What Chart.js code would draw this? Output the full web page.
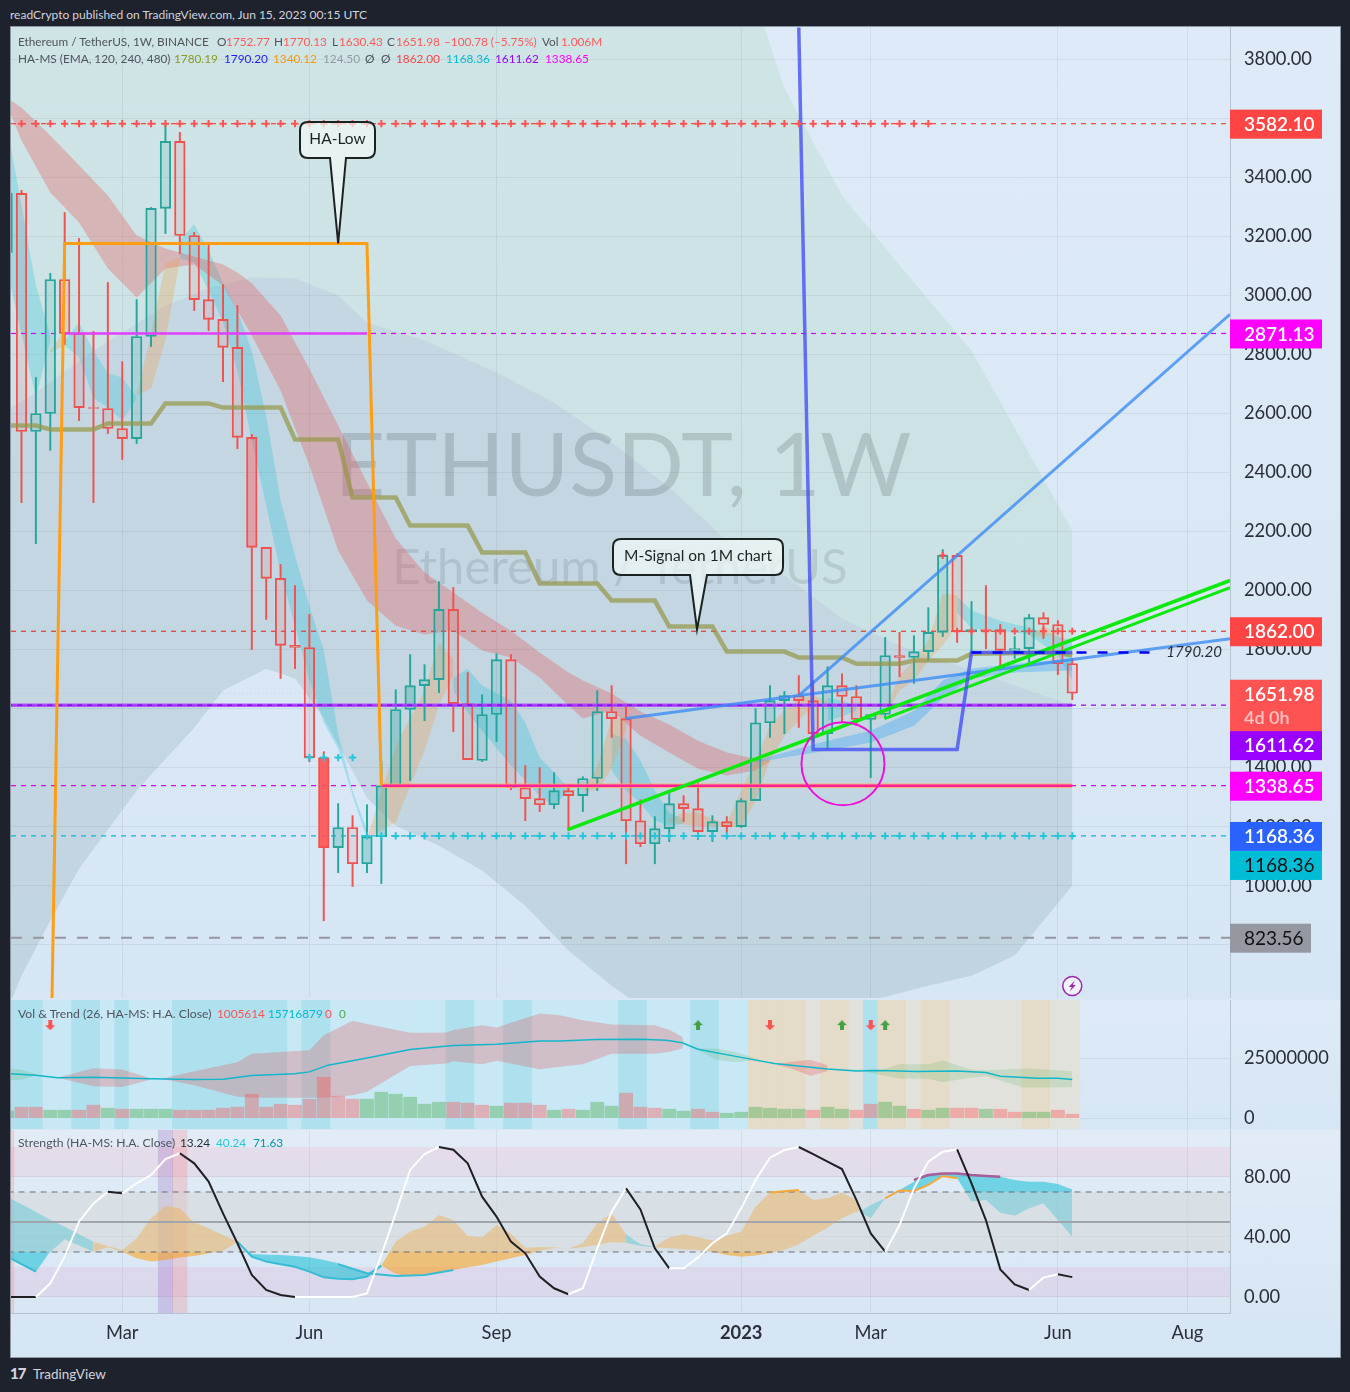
<!DOCTYPE html>
<html><head><meta charset="utf-8">
<script src="https://cdn.jsdelivr.net/npm/chart.js@4"></script>
<style>
html,body{margin:0;padding:0;background:#1e222d;width:1350px;height:1392px;overflow:hidden}
canvas{position:absolute;display:block}
.t{position:absolute;white-space:pre;font-family:"Lato","Noto Sans",sans-serif;font-size:11.8px;line-height:16px;color:#50535e}
#panel{position:absolute;left:10px;top:26px;width:1329px;height:1330px;border:1px solid #8d97a3;background:#d9e7f5}
</style></head><body>
<div id="panel"></div>
<canvas id="cMain" style="left:11px;top:27px"></canvas>
<canvas id="cVol" style="left:11px;top:1000px"></canvas>
<canvas id="cStr" style="left:11px;top:1130px"></canvas>
<div id="texts"></div>
<script>
// ---------- candles (week index starts at -1) ----------
const weekStart=-1;
const opens =[3146,3346,2539,2600,3054,2871,2620,2617,2549,2515,2861,3295,3522,3203,2986,2919,2824,2519,2146,2041,1814,1807,1434,1129,1197,1074,1166,1339,1597,1678,1698,1936,1617,1424,1580,1766,1332,1295,1274,1322,1305,1363,1590,1566,1220,1142,1193,1278,1261,1183,1217,1200,1288,1552,1627,1644,1627,1515,1678,1641,1563,1580,1780,1773,1793,1858,2119,1861,1868,1868,1797,1803,1908,1885,1752.77];
const highs =[3346,3356,2722,3075,3281,3193,2878,3044,2776,2986,3298,3580,3553,3214,3180,3037,2966,2529,2146,2088,2017,1919,1454,1278,1237,1274,1420,1664,1783,1749,2030,2010,1722,1647,1786,1783,1407,1400,1383,1342,1369,1661,1678,1610,1291,1234,1312,1305,1349,1237,1234,1295,1600,1678,1658,1712,1695,1742,1718,1678,1580,1841,1858,1847,1942,2139,2125,1963,2017,1885,1844,1919,1925,1898,1770.13];
const lows  =[3146,2298,2159,2475,2834,2576,2298,2532,2444,2498,2827,3210,3142,2949,2881,2708,2481,1800,1902,1702,1735,1420,881,1044,997,1044,1007,1339,1356,1559,1654,1522,1427,1420,1488,1325,1220,1251,1261,1186,1251,1322,1502,1074,1132,1074,1149,1217,1156,1149,1180,1197,1288,1502,1515,1536,1488,1464,1552,1542,1366,1566,1708,1685,1763,1844,1824,1793,1803,1739,1770,1756,1837,1715,1630.43];
const closes=[3346,2539,2600,3054,2871,2620,2617,2549,2515,2861,3295,3522,3203,2986,2919,2824,2519,2146,2041,1814,1807,1434,1129,1197,1074,1166,1339,1597,1678,1698,1936,1617,1427,1580,1766,1332,1295,1274,1322,1305,1363,1590,1566,1220,1142,1193,1278,1261,1183,1217,1200,1288,1552,1627,1644,1627,1515,1678,1641,1563,1580,1780,1773,1793,1858,2119,1861,1868,1864,1797,1803,1908,1885,1752,1651.98];
const strongBodyWeeks=[16,21,22,24,25,26,27];
// ---------- x axis ----------
const xTickValues=[7,20,33,50,59,72,81];
const xTickLabels=['Mar','Jun','Sep','2023','Mar','Jun','Aug'];
const xMin=-0.729, xMax=83.958;
const priceTicks=[800,1000,1200,1400,1600,1800,2000,2200,2400,2600,2800,3000,3200,3400,3600,3800];
// ---------- cloud ----------
const cloudTopX =[-1,1,5,10,13,16,19,22,24,28,33,37,41,45,49,53,57,61,66,73];
const cloudTopY =[2610,2671,2813,2966,3024,3061,3058,3000,2908,2847,2739,2637,2502,2349,2169,2051,1905,1813,1729,1610];
const cloudHighY=[4500,4500,4500,4500,4500,4500,4500,4500,4500,4500,4500,4500,4500,4500,4300,3702,3339,3102,2813,2203];
const cloudLowX =[-1,0,2,4,8,12,14,17,19,21,24,26,29,32,35,38,41,44,48,52,59,63,66,69,71,73];
const cloudLowY =[576,695,881,1057,1322,1535,1661,1735,1702,1569,1298,1203,1135,1051,932,780,661,559,508,474,610,661,695,763,881,1000];
// ---------- red ribbon ----------
const redX=[-1,0,2,4,6,8,10,12,14,15,16,18,20,22,24,26,28,30,32,34,36,38,39,41,43,45,47,49,51,52];
const redHi=[3668,3637,3542,3441,3339,3203,3159,3132,3105,3078,3041,2932,2752,2559,2366,2176,2061,1993,1925,1864,1790,1722,1695,1651,1590,1546,1491,1451,1430,1424];
const redLo=[3644,3525,3349,3247,3091,2993,3091,3105,3034,2949,2864,2678,2424,2136,1966,1881,1851,1864,1797,1773,1705,1610,1566,1593,1508,1451,1396,1373,1390,1420];
// ---------- cyan ribbon pieces ----------
const cy1X=[-1,1,2], cy1Hi=[3576,3034,2864], cy1Lo=[3085,2654,2847];
const cy2X=[3,4,5,6,7,8], cy2Hi=[2847,2908,2813,2736,2722,2654], cy2Lo=[2830,2790,2651,2620,2576,2651];
const cy3X=[11,12,13,14,15,16,17,18,19,20,21,22,23,24], cy3Hi=[3186,3241,3152,3044,2949,2813,2593,2305,2119,1949,1797,1515,1322,1186], cy3Lo=[3125,3112,3017,2908,2746,2508,2288,2061,1881,1695,1552,1464,1305,1159];
const cy4X=[30,31,32,34,35,36,37,38], cy4Hi=[1705,1735,1678,1627,1552,1434,1383,1332], cy4Lo=[1661,1586,1525,1407,1356,1305,1271,1322];
const cy5X=[41,42,43,44,45,46], cy5Hi=[1515,1498,1424,1322,1247,1227], cy5Lo=[1390,1322,1278,1220,1203,1210];
const cy6X=[56,57,58], cy6Hi=[1637,1627,1610], cy6Lo=[1559,1573,1593];
const cy7X=[65,66,68,70,72,73], cy7Hi=[1980,1932,1898,1874,1844,1830], cy7Lo=[1925,1871,1864,1851,1780,1695];
// ---------- tan ribbon pieces ----------
const ta0X=[2,3], ta0Hi=[2813,2881], ta0Lo=[2807,2830];
const ta1X=[8,9,10,11], ta1Hi=[2661,2871,3108,3129], ta1Lo=[2661,2685,2847,3119];
const ta2X=[24,26,28,29,30], ta2Hi=[1159,1474,1661,1824,1769], ta2Lo=[1159,1214,1458,1610,1712];
const ta3X=[39,40,41,42], ta3Hi=[1322,1403,1566,1566], ta3Lo=[1322,1322,1396,1525];
const ta4X=[45,46,47,48,49,50,51,52,53,54,55,56], ta4Hi=[1227,1247,1247,1227,1210,1322,1424,1542,1593,1637,1644,1627], ta4Lo=[1213,1207,1200,1200,1200,1200,1288,1424,1508,1559,1610,1617];
const ta5X=[59,60,61,62,63,64,65], ta5Hi=[1563,1600,1712,1763,1830,1990,1983], ta5Lo=[1556,1573,1661,1695,1763,1814,1881];
const ta6X=[70,71,72], ta6Hi=[1844,1881,1854], ta6Lo=[1844,1844,1854];
// ---------- blue ribbon ----------
const blX=[51,53,56,59,62,64,66,69,73], blHi=[1424,1451,1491,1525,1593,1695,1736,1752,1769], blLo=[1417,1434,1458,1485,1542,1634,1702,1722,1729];
// ---------- lines ----------
const signalX=[-1,1,2,5,6,9,10,13,14,18,19,22,23,26,27,31,32,35,36,40,41,44,45,48,49,53,54,57,58,61,62,65,66,72,73];
const signalY=[2559,2559,2546,2546,2566,2566,2634,2634,2620,2620,2512,2512,2315,2315,2220,2220,2129,2129,2024,2024,1966,1966,1878,1878,1793,1793,1773,1773,1752,1752,1763,1763,1786,1790,1780];
const haLowX=[2.12,3,24,25], haLowY=[617,3176,3176,1339];
const haHighX=[54,55,65,66,73], haHighY=[3908,1461,1461,1790,1790];
const dashBlueX=[66,79], dashBlueY=[1790.2,1790.2];
const green1X=[37.95,83.96], green1Y=[1190,2034];
const green2X=[59.96,83.96], green2Y=[1566,2010];
const trend1X=[42,54,62,73,83.96], trend1Y=[1566,1644,1695,1766,1837];
const trend2X=[54,83.96], trend2Y=[1644,2936];
const levelValues=[3582.10,2871.13,1862.00,1611.62,1338.65,1168.36,823.56];
const levelColors=['#f44336','#d500f9','#e53935','#8a00f0','#e000e8','#00bcd4','#9598a1'];
const magentaSolidX=[3,24], purpleSolidX=[-1,73], pinkSolidX=[25,73];
const plusRedTopX=[0,1,2,3,4,5,6,7,8,9,10,11,12,13,14,15,16,17,18,19,20,21,22,23,24,25,26,27,28,29,30,31,32,33,34,35,36,37,38,39,40,41,42,43,44,45,46,47,48,49,50,51,52,53,54,55,56,57,58,59,60,61,62,63];
const plusRedLowX=[65,66,67,68,69,70,71,72,73];
const plusCyanLowX=[24,25,26,27,28,29,30,31,32,33,34,35,36,37,38,39,40,41,42,43,44,45,46,47,48,49,50,51,52,53,54,55,56,57,58,59,60,61,62,63,64,65,66,67,68,69,70,71,72,73];
const plusCyanHighX=[20,21,22,23];
const circleX=57.07, circleY=1413;
const tagTexts=['3582.10','2871.13','1862.00','1651.98','1611.62','1338.65','1168.36','1168.36','823.56'];
const tagValues=[3582.10,2871.13,1862.00,1651.98,1611.62,1338.65,1168.36,1168.36,823.56];
const tagShift=[0,0,0,12,40,0,0,29,0];
const tagHeights=[29,29,29,52,29,29,29,29,29];
const tagWidths=[92,92,92,92,92,92,92,92,81];
const tagFill=['#ff4444','#ff00ff','#ff4444','#ff5252','#9900ff','#ff00ff','#2962ff','#00bcd4','#9598a1'];
const tagInk=['#fff','#fff','#fff','#fff','#fff','#fff','#fff','#111','#111'];
// ---------- volume ----------
const volTrendState=[1,1,1,0,0,1,1,0,1,0,0,0,1,1,1,1,1,1,1,1,0,1,1,0,0,0,0,0,0,0,0,1,1,0,0,1,1,0,0,0,0,0,0,1,1,0,0,0,1,1,0,0,2,2,2,2,3,2,2,3,1,2,2,3,2,2,3,3,3,3,3,2,2,3,3];
const volValues=[2.92,4.58,4.58,3.33,3.33,3.33,5.42,4.17,3.75,3.75,3.75,3.75,3.33,3.33,3.33,4.17,4.58,10.0,4.58,5.83,5.42,7.92,17.08,9.17,7.92,7.92,10.83,10.0,8.75,5.83,6.67,6.67,6.25,5.42,5.0,6.25,6.25,5.42,3.33,3.75,3.33,6.67,5.0,10.42,4.58,4.17,3.75,2.92,3.75,2.5,2.08,2.5,4.58,4.17,3.75,3.75,3.33,4.58,3.75,3.33,5.83,6.67,5.0,3.75,3.33,4.17,4.17,4.17,3.75,3.75,2.5,2.5,2.5,3.33,1.67];
const volIsGreen=[1,0,0,1,1,0,0,1,0,1,1,1,0,0,0,0,0,0,0,0,0,0,0,0,0,1,1,1,1,1,1,0,0,0,1,0,0,0,1,0,1,1,1,0,0,0,1,1,0,0,1,1,1,1,1,1,0,1,1,0,0,1,1,0,1,1,0,0,1,0,0,1,1,0,0];
const volTicks=[0,25000000];
const volLineX=[-1,1,2.5,5,7,9,12,14,16,19,20,21.3,24,27,30,33,36,37.4,39.9,43,44.8,45.9,47,49.8,52.3,56,58,59.7,62.2,65,67,68,70.6,72,73];
const volLineY=[18.6,17.9,16.9,17.1,16.8,16.4,16.1,16.25,17.8,18.5,19.3,22.1,25.1,28.6,30.3,30.8,32.2,32.2,32.8,32.9,32.5,31.4,28.75,25.55,22.8,20.55,19.7,19.85,19.45,19.7,19.0,17.5,16.67,16.67,16.1];
const vr1X=[2.5,5,7,9], vr1Hi=[16.9,20.8,20.3,16.5], vr1Lo=[16.9,13.3,13.05,16.1];
const vr2X=[9.7,12,15,16,20,21,23,24,27,29.5,30,32,33,36,37.4,39,41,44,45,45.9,46];
const vr2Hi=[16.4,19.6,23.3,26.9,28.3,34.6,40.6,39.2,35.6,35.6,36.7,38.75,37.8,43.6,42.9,40.8,39.0,38.75,36.9,33.9,31.4];
const vr2Lo=[16.4,13.75,8.9,8.5,8.5,8.5,9.6,11.0,21.7,22.8,23.75,22.5,23.9,20.4,21.4,22.5,26.9,26.9,27.6,29.0,31.4];
const vr3X=[52.5,53.5,54.8,56], vr3Hi=[22.8,23.5,24.4,22.1], vr3Lo=[22.1,20.7,17.6,19.7];
const vg0X=[-1,0,1], vg0Hi=[20.7,20.2,18.4], vg0Lo=[15.8,16,17.8];
const vg1X=[46,47,48.3,49.6,51.3,52.5], vg1Hi=[31.4,29,29,27.6,24.4,22.8], vg1Lo=[31.4,28.3,24.4,23.3,24.4,22.8];
const vg2X=[56,58.7,59,59.7,61,63,64,65.9,67,69.6,70.9,73], vg2Hi=[20.7,20.2,20.7,20,22.5,22.5,24,20.4,20,20.7,20.4,19.6], vg2Lo=[20.7,19.7,18.7,18,16.5,16.4,15,16.9,17.6,12.8,12.8,13.05];
const arrowUpX=[47,57,60], arrowDownX=[2,52,59], arrowValue=38.75;
// ---------- strength ----------
const stochValues=[0,0,0,9.1,26.9,50.2,62.4,70.2,69.1,75.8,81.3,92,95.8,89.1,76.9,55.8,35.8,14.7,4.7,1.3,0,0,0,0,0,2.4,28,55.8,84.7,95.3,100,98.2,89.1,66.9,53.6,36.9,29.1,13.6,5.8,1.8,5.8,32.4,56.9,72.4,58.4,32.4,19.1,19.1,26.4,35.8,42.4,59.1,78,92.9,98,100,95.3,90.2,85.3,64.7,42.4,30.2,48,72.4,90.2,96.9,98.4,75.8,51.3,18.4,8.4,4.7,12.9,15.1,13.24];
const sCy1X=[-1,1,1.9,3,5], sCy1Hi=[66.9,56.9,52,46.9,36.9], sCy1Lo=[26.9,16.9,29.1,38.5,30.2];
const sTa1X=[5,6,7,8,9,10,11,12,13,14,15], sTa1Hi=[36.9,34,31.3,39.1,52.5,60.9,59.1,49.6,45.8,41.3,36.9], sTa1Lo=[30.2,33.1,30.2,25.8,23.6,24.7,26.4,27.3,29.1,30.7,36.9];
const sCy2X=[15,16,17,18,19,20,21,22,23,24,25], sCy2Hi=[36.9,28.7,28.2,28,27.3,26.5,24.7,22.5,19.1,15.8,21.3], sCy2Lo=[36.9,26.9,23.6,21.8,20.2,16.9,13.1,12.2,11.8,13.6,20.9];
const sTa2X=[25,26,27,28,29,30,31,32,33,34,35,36,37,38,39,40,41,42], sTa2Hi=[21,36.9,43.6,46.9,54.7,51.3,40.7,39.8,48,42.4,32.9,33.3,33.1,32.4,35.8,49.1,55.8,41.8], sTa2Lo=[21,15.3,14,14.7,16.2,18,19.8,21.3,23.6,25.8,28,30.9,32.7,32.4,33.1,34.7,36.5,36.2];
const sCy3X=[42,43,44], sCy3Hi=[41.8,35.1,33.6], sCy3Lo=[36.2,34,33.1];
const sTa3X=[44,45,46,47,48,49,50,51,52,53,54,55,56,57,58,58.2], sTa3Hi=[33.6,39.6,41.8,39.8,37.6,40.7,43.6,60.2,69.6,70.5,71.3,64.7,65.8,69.6,64.7,56.9], sTa3Lo=[33.1,32.5,31.8,31.3,30.2,28,26.9,27.6,29.1,31.3,35.1,40.9,46.2,52.5,56.9,56.9];
const sCy4X=[58.2,59,60,61,62,63,64,65,66,67,68,69,70,71,72,73], sCy4Hi=[56.9,61.3,65.8,71.3,76.9,81.3,82.4,82.4,81.3,80.7,80.2,78,76.9,76.9,75.3,71.63], sCy4Lo=[56.9,52.5,65.8,70.9,70.7,74.7,80.7,79.1,63.6,64.7,56.2,54.2,59.1,62.4,51.3,40.24];
const sCyanLine1X=[15,16,17,18,19,20,21,22,23,24,25], sCyanLine1Y=[36.9,26.9,23.6,21.8,20.2,16.9,13.1,12.2,11.8,13.6,20.9];
const sCyanLine2X=[22,24,26,28,30], sCyanLine2Y=[21.8,15.8,14,14.7,18];
const sCyanLine3X=[-1,1], sCyanLine3Y=[26.9,16.9];
const sOrangeLine1X=[52,53,54], sOrangeLine1Y=[69.6,70.5,71.3];
const sOrangeLine2X=[60,61,62,63,64,65], sOrangeLine2Y=[65.8,71,70.7,74.7,80.7,79.1];
const sPurpleLineX=[62,63,64,65,66,67,68], sPurpleLineY=[78,81.3,82.4,82.4,81.3,80.7,80.2];
const strTicks=[0,40,80];
const zoneOuterHi=[100,20], zoneOuterLo=[80,0];
const zoneMidHi=70, zoneMidLo=30, zoneCentre=50;
const highlightPurpleWeek=10, highlightPinkWeek=11;

// ---------- helpers ----------
const FONT='"Lato","Noto Sans",sans-serif';
const pts=(xs,ys)=>xs.map((x,i)=>({x,y:ys[i]}));
const wk=i=>i+weekStart;
const base={pointRadius:0,pointHoverRadius:0,tension:0,type:'line'};
function band(xs,hi,lo,color,order){return [
  {...base,data:pts(xs,lo),borderWidth:0,borderColor:'transparent',fill:false,order},
  {...base,data:pts(xs,hi),borderWidth:0,borderColor:'transparent',fill:'-1',backgroundColor:color,order}];}
function line(xs,ys,color,width,order,dash){return {...base,data:pts(xs,ys),borderColor:color,borderWidth:width,fill:false,order,borderDash:dash||[],borderJoinStyle:'miter'};}
function plus(xs,y,color,order){return {...base,showLine:false,data:xs.map(x=>({x,y})),pointStyle:'cross',pointRadius:3.6,pointBorderColor:color,pointBorderWidth:2,order};}
function xScale(withLabels){return {type:'linear',min:xMin,max:xMax,position:'bottom',offset:false,
  afterBuildTicks:s=>{s.ticks=xTickValues.map(v=>({value:v}));},
  afterFit:s=>{s.paddingLeft=s.paddingRight=0;s.height=withLabels?43:0;},
  grid:{color:'rgba(42,46,57,0.07)',drawTicks:false,offset:false},border:{display:withLabels,color:'#b4c4d3',width:1},
  ticks:withLabels?{display:true,autoSkip:false,maxRotation:0,padding:9,color:'#2a2e39',
    callback:v=>xTickLabels[xTickValues.indexOf(v)],
    font:c=>({family:FONT,size:18.3,weight:c.tick&&c.tick.value===50?'700':'400'})}:{display:false}};}
function yScale(min,max,ticks,fmt,grid){return {type:'linear',position:'right',min,max,
  afterBuildTicks:s=>{s.ticks=ticks.map(v=>({value:v}));},
  afterFit:s=>{s.width=110;s.paddingTop=s.paddingBottom=0;},
  grid:{color:grid||'rgba(42,46,57,0.07)',drawTicks:false},border:{display:true,color:'#b4c4d3',width:1},
  ticks:{display:true,padding:14,color:'#2a2e39',font:{family:FONT,size:18.3},callback:fmt}};}
const commonOpts={responsive:false,animation:false,devicePixelRatio:1,events:[],layout:{padding:0,autoPadding:false},
  plugins:{legend:{display:false},tooltip:{enabled:false},title:{display:false}}};

// ---------- main pane ----------
const W=1329,H1=971;
const redLine='#f0524f',grnLine='#26a69a';
const idx=opens.map((_,i)=>wk(i));
const upBody=i=>closes[i]>=opens[i];
function bodyFill(i){const w=idx[i];const s=strongBodyWeeks.includes(w);
  if(w===21)return 'rgba(255,82,82,0.9)'; if(w===16)return 'rgba(255,82,82,0.4)';
  return upBody(i)?(s?'rgba(38,166,154,0.3)':'rgba(38,166,154,0.14)'):'rgba(239,83,80,0.11)';}
const lineCol=opens.map((_,i)=>upBody(i)?grnLine:redLine);
const bar=(d)=>({type:'bar',grouped:false,...d});
const mainDS=[
  ...band(cloudTopX,cloudHighY,cloudTopY,'rgba(76,175,80,0.10)',60),
  {...base,data:pts(cloudTopX,cloudTopY),borderWidth:0,borderColor:'transparent',fill:false,order:59},
  {...base,data:pts(cloudLowX,cloudLowY),borderWidth:0,borderColor:'transparent',fill:'-1',backgroundColor:'rgba(82,126,127,0.16)',order:59},
  ...band(redX,redHi,redLo,'rgba(229,83,83,0.32)',40),
  ...band(cy1X,cy1Hi,cy1Lo,'rgba(0,188,212,0.24)',41),
  ...band(cy2X,cy2Hi,cy2Lo,'rgba(0,188,212,0.22)',41),
  ...band(cy3X,cy3Hi,cy3Lo,'rgba(0,188,212,0.24)',41),
  ...band(cy4X,cy4Hi,cy4Lo,'rgba(0,188,212,0.24)',41),
  ...band(cy5X,cy5Hi,cy5Lo,'rgba(0,188,212,0.24)',41),
  ...band(cy6X,cy6Hi,cy6Lo,'rgba(0,188,212,0.24)',41),
  ...band(cy7X,cy7Hi,cy7Lo,'rgba(0,188,212,0.24)',41),
  ...band(ta0X,ta0Hi,ta0Lo,'rgba(240,150,60,0.28)',39),
  ...band(ta1X,ta1Hi,ta1Lo,'rgba(240,150,60,0.28)',39),
  ...band(ta2X,ta2Hi,ta2Lo,'rgba(240,150,60,0.28)',39),
  ...band(ta3X,ta3Hi,ta3Lo,'rgba(240,150,60,0.28)',39),
  ...band(ta4X,ta4Hi,ta4Lo,'rgba(240,150,60,0.28)',39),
  ...band(ta5X,ta5Hi,ta5Lo,'rgba(240,150,60,0.28)',39),
  ...band(ta6X,ta6Hi,ta6Lo,'rgba(240,150,60,0.28)',39),
  ...band(blX,blHi,blLo,'rgba(66,165,245,0.38)',38),
  // thin price levels
  ...levelValues.map((v,i)=>line([xMin,xMax],[v,v],levelColors[i],i===6?2:1.2,35,i===6?[11,11]:[5,5])),
  line([xMin,73],[1651.98,1651.98],'rgba(120,123,134,0.18)',1,35,[1,3]),
  // candles
  bar({data:idx.map((x,i)=>({x,y:[lows[i],Math.min(opens[i],closes[i])]})),backgroundColor:lineCol,barThickness:1.3,order:20,borderWidth:0}),
  bar({data:idx.map((x,i)=>({x,y:[Math.max(opens[i],closes[i]),highs[i]]})),backgroundColor:lineCol,barThickness:1.3,order:20,borderWidth:0}),
  bar({data:idx.map((x,i)=>({x,y:[opens[i],closes[i]]})),backgroundColor:opens.map((_,i)=>bodyFill(i)),borderColor:lineCol,borderWidth:1.25,borderSkipped:false,barThickness:10.6,order:19}),
  // overlays
  line(signalX,signalY,'rgba(150,150,70,0.7)',4.5,12),
  line(magentaSolidX,[2871.13,2871.13],'#e040fb',2.5,10),
  line(purpleSolidX,[1611.62,1611.62],'rgba(170,60,255,0.85)',3.5,9),
  line(purpleSolidX,[1611.62,1611.62],'#7a00e0',1.4,8.5,[5,5]),
  line(pinkSolidX,[1338.65,1338.65],'rgba(255,170,90,0.85)',4.5,9),
  line(pinkSolidX,[1338.65,1338.65],'#ff1f9c',2.6,8),
  line(trend1X,trend1Y,'rgba(60,140,245,0.8)',3,7),
  line(trend2X,trend2Y,'rgba(60,140,245,0.8)',3,7),
  line(green1X,green1Y,'#0fe80f',3.5,6),
  line(green2X,green2Y,'#0fe80f',3,6),
  line(haLowX,haLowY,'#ff9d14',3,5),
  line(haHighX,haHighY,'rgba(70,80,245,0.8)',3.5,4),
  line(dashBlueX,dashBlueY,'#0000f0',2.5,3,[10,11]),
  plus(plusRedTopX,3582.10,'#ff5252',2),
  plus(plusRedLowX,1862,'#ff5252',2),
  plus([64],2119,'#ff5252',2),
  plus(plusCyanLowX,1168.36,'#26c6da',2),
  plus(plusCyanHighX,1434,'#26c6da',2),
  {...base,showLine:false,data:[{x:circleX,y:circleY}],pointStyle:'circle',pointRadius:41.5,pointBorderColor:'#ee10d8',pointBorderWidth:2,pointBackgroundColor:'transparent',order:1},
];
function callout(ctx,x0,y0,x1,y1,tipX,tipY,bl,br,text){
  ctx.save();ctx.beginPath();const r=8;
  ctx.moveTo(x0+r,y0);ctx.lineTo(x1-r,y0);ctx.quadraticCurveTo(x1,y0,x1,y0+r);ctx.lineTo(x1,y1-r);ctx.quadraticCurveTo(x1,y1,x1-r,y1);
  ctx.lineTo(br,y1);ctx.lineTo(tipX,tipY);ctx.lineTo(bl,y1);
  ctx.lineTo(x0+r,y1);ctx.quadraticCurveTo(x0,y1,x0,y1-r);ctx.lineTo(x0,y0+r);ctx.quadraticCurveTo(x0,y0,x0+r,y0);ctx.closePath();
  ctx.fillStyle='rgba(240,248,245,0.72)';ctx.fill();ctx.lineWidth=2;ctx.strokeStyle='#1b2322';ctx.stroke();
  ctx.fillStyle='#1b2322';ctx.font='15.5px '+FONT;ctx.textAlign='center';ctx.textBaseline='middle';ctx.fillText(text,(x0+x1)/2,(y0+y1)/2-1);ctx.restore();
}
const mainOverlay={id:'mainOverlay',
  beforeDatasetsDraw(c){const x=c.ctx;x.save();x.fillStyle='rgba(100,105,118,0.27)';x.textAlign='center';x.textBaseline='middle';
    x.font='88px '+FONT;x.fillText('ETHUSDT, 1W',623-11,468-27);
    x.font='49px '+FONT;x.fillStyle='rgba(100,105,118,0.2)';x.fillText('Ethereum / TetherUS',620-11,568-27);x.restore();},
  afterDraw(c){const x=c.ctx,sx=c.scales.x,sy=c.scales.y;
    const tx=sx.getPixelForValue(22),ty=sy.getPixelForValue(3176);
    callout(x,300-11,122-27,375-11,158-27,tx,ty,330-11,346-11,'HA-Low');
    const mx=sx.getPixelForValue(46.93),my=sy.getPixelForValue(1868);
    callout(x,613-11,539-27,783-11,575-27,mx,my,690-11,707-11,'M-Signal on 1M chart');
    x.save();x.font='italic 15px '+FONT;x.fillStyle='#2a2e39';x.textAlign='right';x.textBaseline='middle';
    x.fillText('1790.20',1222-11,sy.getPixelForValue(1790.2));
    // price tags
    const ax=1230-11;
    tagTexts.forEach((t,i)=>{const cy=sy.getPixelForValue(tagValues[i])+tagShift[i]+0.5,h=tagHeights[i];
      x.fillStyle=tagFill[i];x.fillRect(ax,cy-h/2,tagWidths[i],h);
      x.fillStyle=tagInk[i];x.textAlign='left';x.font=(i===8||i===7?'400':'600')+' 19px '+FONT;
      if(i===3){x.fillText(t,ax+14,cy-11);x.fillStyle='rgba(255,255,255,0.65)';x.font='600 18px '+FONT;x.fillText('4d 0h',ax+14,cy+12);}
      else x.fillText(t,ax+14,cy+0.5);});
    // lightning badge
    const bx=sx.getPixelForValue(73),by=986-27;
    x.beginPath();x.arc(bx,by,9.5,0,Math.PI*2);x.fillStyle='#f0f3fa';x.fill();x.lineWidth=1.5;x.strokeStyle='#9c27b0';x.stroke();
    x.beginPath();x.moveTo(bx+2.5,by-5.5);x.lineTo(bx-3.5,by+1);x.lineTo(bx-0.5,by+1);x.lineTo(bx-2.5,by+5.5);x.lineTo(bx+3.5,by-1);x.lineTo(bx+0.5,by-1);x.closePath();x.fillStyle='#9c27b0';x.fill();
    x.restore();}
};
const cMain=document.getElementById('cMain');cMain.width=W;cMain.height=H1;
cMain.style.background='linear-gradient(#deeaf7,#d7e6f5)';
new Chart(cMain,{type:'line',data:{datasets:mainDS},plugins:[mainOverlay],
 options:{...commonOpts,scales:{x:xScale(false),y:yScale(619.2,3909.7,priceTicks,v=>v.toFixed(2))}}});

// ---------- volume pane ----------
const M=1e6;
const stateColors=['#c8e8f5','#aee0ee','#e4dbc8','#e2e2dd'];
const scaleVol=a=>a.map(v=>v*M);
const volG='rgba(76,175,80,0.42)',volR='rgba(255,82,82,0.38)';
const volBandG='rgba(76,175,80,0.18)',volBandR='rgba(229,83,83,0.28)';
const vBand=(x,h,l,c)=>band(x,scaleVol(h),scaleVol(l),c,15);
const volDS=[
  bar({data:idx.map((x,i)=>({x,y:[-5.5*M,50*M]})),backgroundColor:volTrendState.map(s=>stateColors[s]),barThickness:15,order:30,borderWidth:0}),
  bar({data:idx.map((x,i)=>({x,y:[0,volValues[i]*M]})),backgroundColor:volIsGreen.map(g=>g?volG:volR),barThickness:13.2,order:20,borderWidth:0}),
  ...vBand(vr1X,vr1Hi,vr1Lo,volBandR),...vBand(vr2X,vr2Hi,vr2Lo,volBandR),...vBand(vr3X,vr3Hi,vr3Lo,volBandR),
  ...vBand(vg0X,vg0Hi,vg0Lo,volBandG),...vBand(vg1X,vg1Hi,vg1Lo,volBandG),...vBand(vg2X,vg2Hi,vg2Lo,volBandG),
  line(volLineX,scaleVol(volLineY),'#12b7cc',1.5,5),
];
function arrowImg(color,up){const c=document.createElement('canvas');c.width=10;c.height=10;const x=c.getContext('2d');x.fillStyle=color;x.beginPath();
  const P=up?[[5,0],[10,5],[7,5],[7,10],[3,10],[3,5],[0,5]]:[[5,10],[10,5],[7,5],[7,0],[3,0],[3,5],[0,5]];
  P.forEach((p,i)=>i?x.lineTo(p[0],p[1]):x.moveTo(p[0],p[1]));x.closePath();x.fill();return c;}
volDS.push({...base,showLine:false,data:arrowUpX.map(x=>({x,y:arrowValue*M})),pointStyle:arrowImg('#43a047',true),pointRadius:5,order:1});
volDS.push({...base,showLine:false,data:arrowDownX.map(x=>({x,y:arrowValue*M})),pointStyle:arrowImg('#ff5252',false),pointRadius:5,order:1});
const cVol=document.getElementById('cVol');cVol.width=W;cVol.height=129;
cVol.style.background='linear-gradient(#deeaf7,#d7e6f5)';
new Chart(cVol,{type:'line',data:{datasets:volDS},
 options:{...commonOpts,scales:{x:xScale(false),y:yScale(-4.5*M,49.25*M,volTicks,v=>String(v))}}});

// ---------- strength pane ----------
const TAN='rgba(255,152,0,0.5)',CY='rgba(0,188,212,0.5)';
const E=[xMin-1,xMax+1];
const strDS=[
  ...band(E,[zoneOuterHi[0],zoneOuterHi[0]],[zoneOuterLo[0],zoneOuterLo[0]],'rgba(250,140,170,0.16)',60),
  ...band(E,[zoneOuterHi[1],zoneOuterHi[1]],[zoneOuterLo[1],zoneOuterLo[1]],'rgba(225,130,175,0.14)',60),
  bar({data:[{x:highlightPurpleWeek,y:[-11,112]}],backgroundColor:'rgba(130,50,170,0.2)',barThickness:14.4,order:55,borderWidth:0}),
  bar({data:[{x:highlightPinkWeek,y:[-11,112]}],backgroundColor:'rgba(255,82,82,0.18)',barThickness:14.4,order:55,borderWidth:0}),
  bar({data:[{x:-0.73,y:[-11,112]}],backgroundColor:'rgba(255,82,82,0.18)',barThickness:6,order:55,borderWidth:0}),
  ...band(sCy1X,sCy1Hi,sCy1Lo,CY,40),...band(sTa1X,sTa1Hi,sTa1Lo,TAN,40),...band(sCy2X,sCy2Hi,sCy2Lo,CY,40),
  ...band(sTa2X,sTa2Hi,sTa2Lo,TAN,40),...band(sCy3X,sCy3Hi,sCy3Lo,CY,40),...band(sTa3X,sTa3Hi,sTa3Lo,TAN,40),...band(sCy4X,sCy4Hi,sCy4Lo,CY,40),
  ...band(E,[zoneMidHi,zoneMidHi],[zoneMidLo,zoneMidLo],'rgba(211,213,209,0.45)',30),
  line(E,[zoneMidHi,zoneMidHi],'#6b6f78',1,25,[6,5]),
  line(E,[zoneMidLo,zoneMidLo],'#6b6f78',1,25,[6,5]),
  line(E,[zoneCentre,zoneCentre],'#a0a4ab',2,25),
  line(sCyanLine1X,sCyanLine1Y,'#38bcd3',2,10),
  line(sCyanLine2X,sCyanLine2Y,'#38bcd3',2,10),
  line(sCyanLine3X,sCyanLine3Y,'#38bcd3',2,10),
  line(sOrangeLine1X,sOrangeLine1Y,'#f5a93a',2,10),
  line(sOrangeLine2X,sOrangeLine2Y,'#f5a93a',2,10),
  line(sPurpleLineX,sPurpleLineY,'#a65d9a',2.5,10),
  {...base,data:pts(idx,stochValues),borderColor:'#1f1f24',borderWidth:2,fill:false,order:5,
   segment:{borderColor:s=>{const a=s.p0.parsed,b=s.p1.parsed;return (b.y>a.y||(b.y===a.y&&a.x>=19))?'#ffffff':'#1f1f24';}}},
];
const cStr=document.getElementById('cStr');cStr.width=W;cStr.height=226;
cStr.style.background='linear-gradient(#e1ecf7,#d6e5f4)';
new Chart(cStr,{type:'line',data:{datasets:strDS},
 options:{...commonOpts,scales:{x:xScale(true),y:yScale(-10.67,111.33,strTicks,v=>v.toFixed(2))}}});

// ---------- header text ----------
const grey='#50535e',down='#ff5a5a';
const textRows=[
 [10,7,'readCrypto published on TradingView.com, Jun 15, 2023 00:15 UTC','#d1d4dc',12],
 [18,34,'Ethereum / TetherUS, 1W, BINANCE',grey],[217,34,'O',grey],[226,34,'1752.77',down],[274,34,'H',grey],[283,34,'1770.13',down],[332,34,'L',grey],[339,34,'1630.43',down],[387,34,'C',grey],[396,34,'1651.98',down],[444,34,'−100.78 (−5.75%)',down],[542,34,'Vol',grey],[561,34,'1.006M',down],
 [18,51,'HA-MS (EMA, 120, 240, 480)',grey],[174,51,'1780.19','#8c9a1e'],[224,51,'1790.20','#1c1cff'],[273,51,'1340.12','#ff9800'],[323,51,'124.50','#9598a1'],[365,51,'Ø',grey],[381,51,'Ø',grey],[396,51,'1862.00','#ff4444'],[446,51,'1168.36','#00bcd4'],[495,51,'1611.62','#9900ff'],[545,51,'1338.65','#ff00ff'],
 [18,1006,'Vol & Trend (26, HA-MS: H.A. Close)',grey,12.2],[217,1006,'1005614','#ff5252'],[268,1006,'15716879','#00bcd4'],[325,1006,'0','#ff5252'],[339,1006,'0','#4caf50'],
 [18,1135,'Strength (HA-MS: H.A. Close)',grey,12.2],[180,1135,'13.24','#2a2e39'],[216,1135,'40.24','#26c6da'],[253,1135,'71.63','#0097a7'],
 [33,1366,'TradingView','#d1d4dc',13.5],
];
const box=document.getElementById('texts');
textRows.forEach(r=>{const d=document.createElement('div');d.className='t';d.style.left=r[0]+'px';d.style.top=r[1]+'px';d.style.color=r[3];if(r[4])d.style.fontSize=r[4]+'px';d.textContent=r[2];box.appendChild(d);});
const logo=document.createElement('div');logo.className='t';logo.style.cssText='left:10px;top:1365px;color:#d1d4dc;font-weight:900;font-size:15px;letter-spacing:-1px';logo.textContent='17';box.appendChild(logo);
</script>
</body></html>
